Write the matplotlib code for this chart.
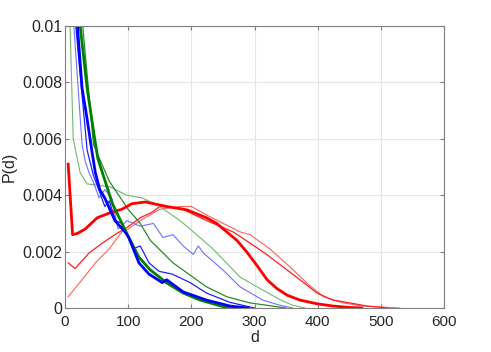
import numpy as np
import matplotlib.pyplot as plt

plt.rcParams['font.family'] = ['Liberation Sans', 'DejaVu Sans']

# red curves
red_thick_d = [5, 12, 20, 32, 51, 74, 90, 106, 127, 140, 161, 193, 224, 240, 256, 272, 288, 304, 320, 336, 352, 372, 399, 424, 450, 470]
red_thick_p = [0.0051, 0.0026, 0.00265, 0.0028, 0.0032, 0.0034, 0.0035, 0.0037, 0.00376, 0.0037, 0.0036, 0.00348, 0.0032, 0.003, 0.0027, 0.0024, 0.00198, 0.0015, 0.001, 0.00068, 0.00045, 0.00028, 0.00015, 0.00007, 0.00002, 0.0]

red_mid_d = [5, 16, 38, 59, 79, 101, 119, 138, 150, 182, 224, 266, 293, 319, 345, 372, 399, 424, 451, 478, 510]
red_mid_p = [0.0016, 0.0014, 0.00195, 0.0023, 0.0026, 0.0029, 0.0032, 0.0034, 0.0036, 0.00355, 0.0031, 0.0027, 0.0023, 0.0019, 0.00146, 0.001, 0.00053, 0.00028, 0.00018, 0.00007, 0.0]

red_light_d = [5, 27, 48, 70, 90, 100, 119, 150, 182, 200, 224, 277, 293, 324, 356, 383, 409, 440, 472, 530]
red_light_p = [0.0004, 0.001, 0.0016, 0.0021, 0.0027, 0.0028, 0.0031, 0.0035, 0.0036, 0.0036, 0.0033, 0.0027, 0.0026, 0.0021, 0.00146, 0.00088, 0.0004, 0.00018, 0.00007, 0.0]

# green curves
green_thick_d = [20, 24, 35, 47, 52, 75, 101, 117, 135, 161, 187, 214, 250, 275]
green_thick_p = [0.0115, 0.01, 0.0078, 0.006, 0.0053, 0.0037, 0.0025, 0.0018, 0.00135, 0.00089, 0.00053, 0.00028, 0.00005, 0.0]

green_mid_d = [22, 45, 70, 100, 119, 135, 171, 224, 256, 293, 350]
green_mid_p = [0.0115, 0.0058, 0.0045, 0.0035, 0.003, 0.0024, 0.0016, 0.00075, 0.0004, 0.00018, 0.0]

green_light_d = [5, 8, 13, 24, 35, 71, 98, 123, 150, 182, 198, 234, 277, 304, 340, 360, 380]
green_light_p = [0.0125, 0.01, 0.006, 0.0048, 0.0044, 0.0043, 0.004, 0.0039, 0.0036, 0.0031, 0.0028, 0.0021, 0.0011, 0.00075, 0.0003, 0.0001, 0.0]

# blue curves
blue_thick_d = [15, 19, 27, 35, 43, 48, 55, 63, 71, 79, 87, 95, 101, 117, 133, 154, 161, 187, 224, 261, 290]
blue_thick_p = [0.0125, 0.0102, 0.0078, 0.0067, 0.0055, 0.0048, 0.0042, 0.0039, 0.0035, 0.0031, 0.0029, 0.0027, 0.0025, 0.0016, 0.0012, 0.0009, 0.001, 0.00057, 0.00028, 0.00007, 0.0]

blue_mid_d = [13, 17, 35, 45, 55, 63, 70, 80, 90, 100, 108, 119, 133, 149, 170, 198, 224, 261, 300]
blue_mid_p = [0.0125, 0.01, 0.0056, 0.0047, 0.0041, 0.0036, 0.0038, 0.0031, 0.003, 0.0025, 0.0021, 0.0022, 0.0016, 0.0013, 0.0012, 0.0009, 0.00053, 0.0002, 0.0]

blue_light_d = [10, 14, 27, 32, 38, 46, 54, 63, 74, 84, 90, 98, 108, 119, 140, 155, 171, 187, 203, 211, 219, 250, 277, 304, 313, 340, 360]
blue_light_p = [0.0125, 0.01, 0.0058, 0.0052, 0.0048, 0.0044, 0.0039, 0.0042, 0.0039, 0.0028, 0.0029, 0.0031, 0.003, 0.0029, 0.003, 0.0025, 0.0026, 0.0022, 0.0019, 0.0022, 0.00195, 0.00135, 0.00075, 0.0004, 0.00028, 0.0001, 0.0]

fig = plt.figure(figsize=(4.91, 3.52), dpi=100)
ax = fig.add_axes([0.1324, 0.125, 0.772, 0.801])

ax.plot(red_light_d, red_light_p, color='#ff6060', lw=0.8)
ax.plot(red_mid_d, red_mid_p, color='#ff2020', lw=0.9)
ax.plot(green_light_d, green_light_p, color='#70b870', lw=0.8)
ax.plot(green_mid_d, green_mid_p, color='#2a8a2a', lw=0.9)
ax.plot(blue_light_d, blue_light_p, color='#7070ff', lw=0.8)
ax.plot(blue_mid_d, blue_mid_p, color='#2020ff', lw=0.9)
ax.plot(red_thick_d, red_thick_p, color='#ff0000', lw=2)
ax.plot(green_thick_d, green_thick_p, color='#008000', lw=2)
ax.plot(blue_thick_d, blue_thick_p, color='#0000ff', lw=2)

ax.set_xlim(0, 600)
ax.set_ylim(0, 0.01)
ax.set_xticks([0, 100, 200, 300, 400, 500, 600])
ax.set_yticks([0, 0.002, 0.004, 0.006, 0.008, 0.01])
ax.set_yticklabels(['0', '0.002', '0.004', '0.006', '0.008', '0.01'])
ax.grid(True, color='#e6e6e6', lw=0.8)
ax.set_axisbelow(True)
for s in ax.spines.values():
    s.set_color('#808080')
    s.set_linewidth(0.8)
ax.tick_params(direction='in', length=3, colors='#808080', labelcolor='#262626', top=True, right=True)
ax.tick_params(axis='y', labelsize=11.5, pad=2)
ax.tick_params(axis='x', labelsize=11, pad=5)
ax.set_xlabel('d', fontsize=11.5, color='#262626', labelpad=1)
ax.set_ylabel('P(d)', fontsize=11.5, color='#262626', labelpad=4)

fig.savefig('out.png', dpi=100)
